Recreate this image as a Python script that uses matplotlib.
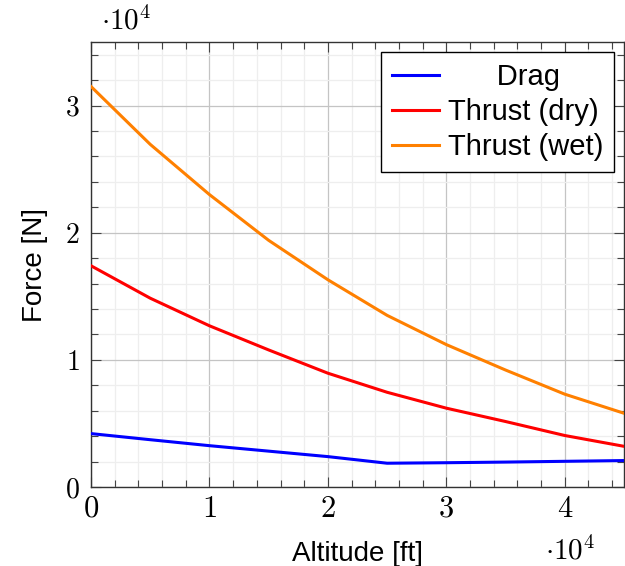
import matplotlib
matplotlib.use("Agg")
import matplotlib.pyplot as plt
from matplotlib.ticker import MultipleLocator, FuncFormatter

# altitude samples [ft] and forces [N]
altitude = [0, 5000, 10000, 15000, 20000, 25000, 30000, 35000, 40000, 45000]
drag = [4200, 3720, 3250, 2820, 2390, 1870, 1910, 1960, 2020, 2080]
thrust_dry = [17400, 14850, 12680, 10780, 8950, 7450, 6200, 5150, 4050, 3200]
thrust_wet = [31500, 26950, 23000, 19400, 16300, 13500, 11200, 9200, 7300, 5800]

plt.rcParams['mathtext.fontset'] = 'cm'
plt.rcParams['font.family'] = ['Liberation Sans', 'DejaVu Sans']

fig = plt.figure(figsize=(6.25, 5.66), dpi=100)
ax = fig.add_axes([91 / 625, 1 - 487 / 566, 533 / 625, 445 / 566])

ax.plot(altitude, drag, color=(0, 0, 1), lw=2.2, label="      Drag", zorder=3)
ax.plot(altitude, thrust_dry, color=(1, 0, 0), lw=2.2, label="Thrust (dry)", zorder=3)
ax.plot(altitude, thrust_wet, color=(1, 0.5, 0), lw=2.2, label="Thrust (wet)", zorder=3)

ax.set_xlim(0, 45000)
ax.set_ylim(0, 35000)

# major every 1e4, minor every 2e3 with grid on both
ax.xaxis.set_major_locator(MultipleLocator(10000))
ax.yaxis.set_major_locator(MultipleLocator(10000))
ax.xaxis.set_minor_locator(MultipleLocator(2000))
ax.yaxis.set_minor_locator(MultipleLocator(2000))
ax.grid(which='major', color='#c4c4c4', lw=0.9, zorder=0)
ax.grid(which='minor', color='#eeeeee', lw=0.9, zorder=0)
ax.set_axisbelow(True)

fmt = FuncFormatter(lambda v, pos: r"$%g$" % (v / 10000))
ax.xaxis.set_major_formatter(fmt)
ax.yaxis.set_major_formatter(fmt)

ax.tick_params(which='both', direction='in', top=True, right=True,
               color='#444444', width=0.8)
ax.tick_params(which='major', length=7.5)
ax.tick_params(which='minor', length=5)
ax.tick_params(axis='x', which='major', labelsize=22, pad=5)
ax.tick_params(axis='y', which='major', labelsize=20, pad=8)

for s in ax.spines.values():
    s.set_color('#333333')
    s.set_linewidth(1.0)

ax.set_xlabel("Altitude [ft]", fontsize=20, labelpad=12)
ax.set_ylabel("Force [N]", fontsize=20, labelpad=12)

# scale markers for both axes
fig.text(101 / 625, 1 - 30 / 566, r"$\cdot 10^4$", fontsize=21, va='baseline')
fig.text(545 / 625, 1 - 560 / 566, r"$\cdot 10^4$", fontsize=21, va='baseline')

leg = ax.legend(loc='upper right', fontsize=21, frameon=True, fancybox=False,
                framealpha=1, edgecolor='black', borderaxespad=0.34,
                handlelength=1.6, handletextpad=0.3, labelspacing=0.24,
                borderpad=0.38)
leg.get_frame().set_linewidth(1.0)

fig.savefig("out.png", dpi=100)
